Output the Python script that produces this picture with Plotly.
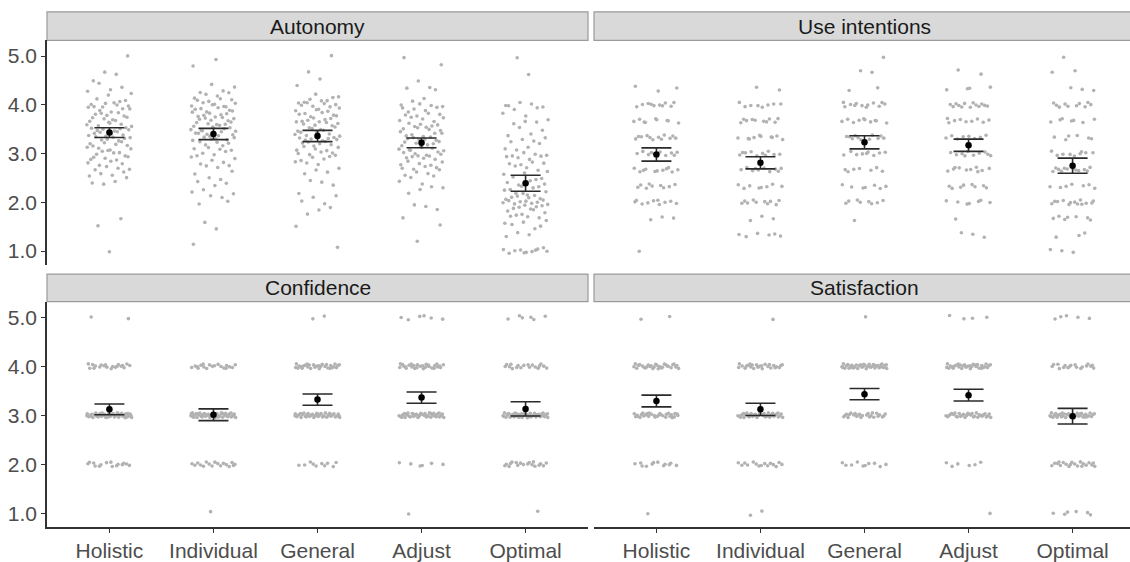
import numpy as np
import plotly.graph_objects as go

# ---------------------------------------------------------------- data
conditions = ["Holistic", "Individual", "General", "Adjust", "Optimal"]

# Single-item measures (1-5 Likert)
likert_levels = [1, 2, 3, 4, 5]
# Use intentions: mean of three items -> steps of 1/3
intention_levels = [1.00, 1.33, 1.67, 2.00, 2.33, 2.67, 3.00, 3.33, 3.67,
                    4.00, 4.33, 4.67, 5.00]
# Autonomy: multi-item scale, binned at 0.1
autonomy_levels = [1.0, 1.1, 1.2, 1.3, 1.4, 1.5, 1.6, 1.7, 1.8, 1.9,
                   2.0, 2.1, 2.2, 2.3, 2.4, 2.5, 2.6, 2.7, 2.8, 2.9,
                   3.0, 3.1, 3.2, 3.3, 3.4, 3.5, 3.6, 3.7, 3.8, 3.9,
                   4.0, 4.1, 4.2, 4.3, 4.4, 4.5, 4.6, 4.7, 4.8, 4.9,
                   5.0]

# number of respondents at each level, one row per condition
autonomy_counts = [
    [1, 0, 0, 0, 0, 1, 0, 1, 0, 0,  0, 0, 0, 0, 3, 2, 3, 4, 4, 5,
     5, 5, 6, 7, 7, 7, 6, 6, 5, 5,  7, 3, 2, 2, 2, 1, 1, 1, 0, 0,  1],   # Holistic
    [0, 1, 0, 0, 0, 1, 1, 0, 0, 0,  2, 2, 2, 2, 2, 2, 2, 2, 3, 3,
     4, 4, 5, 6, 7, 8, 7, 6, 7, 6,  7, 5, 3, 2, 2, 0, 0, 0, 1, 1,  0],   # Individual
    [0, 1, 0, 0, 0, 1, 0, 0, 2, 1,  2, 2, 1, 0, 3, 0, 2, 2, 3, 4,
     5, 5, 6, 7, 7, 6, 6, 6, 6, 5,  7, 5, 2, 0, 1, 1, 0, 1, 0, 0,  1],   # General
    [0, 0, 1, 0, 0, 1, 0, 1, 0, 3,  0, 0, 1, 3, 2, 2, 3, 5, 5, 5,
     6, 7, 6, 6, 6, 5, 5, 5, 4, 5,  4, 2, 0, 2, 1, 1, 0, 0, 1, 0,  1],   # Adjust
    [10, 1, 0, 2, 1, 3, 3, 4, 4, 6, 9, 6, 5, 4, 4, 3, 3, 3, 4, 4,
     4, 3, 2, 3, 2, 2, 2, 2, 2, 2,  5, 0, 0, 0, 0, 0, 1, 0, 0, 0,  1],   # Optimal
]
intention_counts = [
    [1, 0, 3, 10, 9, 11, 10, 12, 9, 10, 3, 0, 0],    # Holistic
    [0, 6, 3, 10, 8, 10, 10, 10, 10, 8, 2, 0, 0],    # Individual
    [0, 0, 1, 8, 7, 7, 9, 11, 10, 12, 2, 2, 1],      # General
    [0, 3, 1, 7, 8, 10, 10, 8, 9, 13, 4, 2, 0],      # Adjust
    [3, 3, 7, 13, 7, 12, 9, 6, 7, 10, 3, 2, 1],      # Optimal
]
confidence_counts = [
    [0, 15, 45, 20, 2],
    [1, 17, 50, 19, 0],
    [0, 10, 40, 30, 2],
    [1, 6, 45, 28, 6],
    [1, 18, 45, 18, 6],
]
satisfaction_counts = [
    [1, 12, 30, 30, 2],
    [2, 15, 40, 25, 1],
    [0, 10, 25, 38, 1],
    [1, 6, 32, 32, 4],
    [6, 20, 38, 18, 5],
]

# condition means and 95% CI half-widths
autonomy_mean = [3.43, 3.40, 3.36, 3.22, 2.39]
autonomy_ci = [0.10, 0.115, 0.115, 0.10, 0.165]
intention_mean = [2.98, 2.81, 3.23, 3.17, 2.75]
intention_ci = [0.135, 0.125, 0.135, 0.125, 0.155]
confidence_mean = [3.12, 3.01, 3.32, 3.36, 3.13]
confidence_ci = [0.11, 0.12, 0.115, 0.115, 0.145]
satisfaction_mean = [3.29, 3.12, 3.43, 3.41, 2.98]
satisfaction_ci = [0.12, 0.125, 0.115, 0.12, 0.16]

# ---------------------------------------------------------------- layout geometry
W, H = 1130, 562
FONT = "Liberation Sans, Arial, Helvetica, sans-serif"
FONT_SIZE = 21
X_JITTER = 0.22
Y_JITTER = 0.05


def fx(px):
    return px / W


def fy(py):
    return 1 - py / H


def radical_inverse(k, base):
    """Van der Corput radical inverse, used for evenly spread jitter."""
    out = np.zeros(len(k))
    f = 1.0 / base
    kk = np.array(k, dtype=np.int64)
    while np.any(kk > 0):
        out += (kk % base) * f
        kk //= base
        f /= base
    return out


LEFT = (47, 588)
RIGHT = (594, 1130)
RIGHT_FULL = 594 + (588 - 47)          # panel continues past the page edge
TOP = (41, 269)
BOTTOM = (306, 535)
TOP_STRIP = (12, 41)
BOTTOM_STRIP = (278, 306)

panels = [
    # title, levels, counts, mean, ci, x-span, y-span, strip, axis suffix
    ("Autonomy", autonomy_levels, autonomy_counts, autonomy_mean, autonomy_ci,
     LEFT, TOP, TOP_STRIP, ""),
    ("Use intentions", intention_levels, intention_counts, intention_mean, intention_ci,
     RIGHT, TOP, TOP_STRIP, "2"),
    ("Confidence", likert_levels, confidence_counts, confidence_mean, confidence_ci,
     LEFT, BOTTOM, BOTTOM_STRIP, "3"),
    ("Satisfaction", likert_levels, satisfaction_counts, satisfaction_mean, satisfaction_ci,
     RIGHT, BOTTOM, BOTTOM_STRIP, "4"),
]

fig = go.Figure()
shapes, annotations = [], []
layout_axes = {}

for p_idx, (title, levels, counts, means, cis, xs, ys, strip, sfx) in enumerate(panels):
    xref, yref = "x" + sfx, "y" + sfx
    px_all, py_all = [], []
    for c_idx, row in enumerate(counts):
        vals = np.repeat(np.asarray(levels, dtype=float), row)
        k = np.arange(len(vals)) + 1 + 7 * c_idx + 3 * p_idx
        jx = (radical_inverse(k, 2) - 0.5) * 2 * X_JITTER
        jy = (radical_inverse(k, 3) - 0.5) * 2 * Y_JITTER
        px_all.append(c_idx + 1 + jx)
        py_all.append(vals + jy)
    fig.add_trace(go.Scatter(
        x=np.concatenate(px_all), y=np.concatenate(py_all),
        mode="markers", xaxis=xref, yaxis=yref, showlegend=False,
        marker=dict(size=3.6, color="#b2b2b2", line=dict(width=0)),
        hoverinfo="skip",
    ))
    fig.add_trace(go.Scatter(
        x=list(range(1, len(conditions) + 1)), y=means,
        mode="markers", xaxis=xref, yaxis=yref, showlegend=False,
        marker=dict(size=6.5, color="black"),
        error_y=dict(type="data", array=cis, symmetric=True,
                     color="#2a2a2a", thickness=1.6, width=15),
    ))

    is_left = xs == LEFT
    is_bottom = ys == BOTTOM
    px_per_unit = (LEFT[1] - LEFT[0]) / 5.2
    x_hi = 0.4 + (xs[1] - xs[0]) / px_per_unit

    xkey = "xaxis" + sfx
    ykey = "yaxis" + sfx
    layout_axes[xkey] = dict(
        domain=[fx(xs[0]), fx(xs[1])], range=[0.4, x_hi], anchor=yref,
        tickmode="array", tickvals=[1, 2, 3, 4, 5], ticktext=conditions,
        showticklabels=is_bottom, ticks="outside" if is_bottom else "",
        ticklen=4, tickwidth=1.4, tickcolor="#333333",
        showline=is_bottom, linecolor="#333333", linewidth=1.6,
        showgrid=False, zeroline=False, fixedrange=True,
        tickfont=dict(family=FONT, size=FONT_SIZE, color="#4d4d4d"),
    )
    layout_axes[ykey] = dict(
        domain=[fy(ys[1]), fy(ys[0])], range=[0.71, 5.32], anchor=xref,
        tickmode="array", tickvals=[1, 2, 3, 4, 5],
        ticktext=["1.0", "2.0", "3.0", "4.0", "5.0"],
        showticklabels=is_left, ticks="outside" if is_left else "",
        ticklen=4, tickwidth=1.4, tickcolor="#333333",
        showline=is_left, linecolor="#333333", linewidth=1.6,
        showgrid=False, zeroline=False, fixedrange=True,
        tickfont=dict(family=FONT, size=FONT_SIZE, color="#4d4d4d"),
    )

    # facet strip
    shapes.append(dict(
        type="rect", xref="paper", yref="paper",
        x0=fx(xs[0]), x1=fx(xs[1]) if is_left else fx(W + 10),
        y0=fy(strip[1]), y1=fy(strip[0]),
        fillcolor="#d9d9d9", line=dict(color="#9a9a9a", width=1.2), layer="below",
    ))
    cx = (xs[0] + (xs[1] if is_left else RIGHT_FULL)) / 2
    annotations.append(dict(
        text=title, xref="paper", yref="paper",
        x=fx(cx), y=fy((strip[0] + strip[1]) / 2),
        xanchor="center", yanchor="middle", showarrow=False,
        font=dict(family=FONT, size=FONT_SIZE, color="#1a1a1a"),
    ))

fig.update_layout(
    width=W, height=H,
    margin=dict(l=0, r=0, t=0, b=0),
    paper_bgcolor="white", plot_bgcolor="white",
    shapes=shapes, annotations=annotations,
    showlegend=False,
    **layout_axes,
)

fig.write_html("out.html", config={"displayModeBar": False})
